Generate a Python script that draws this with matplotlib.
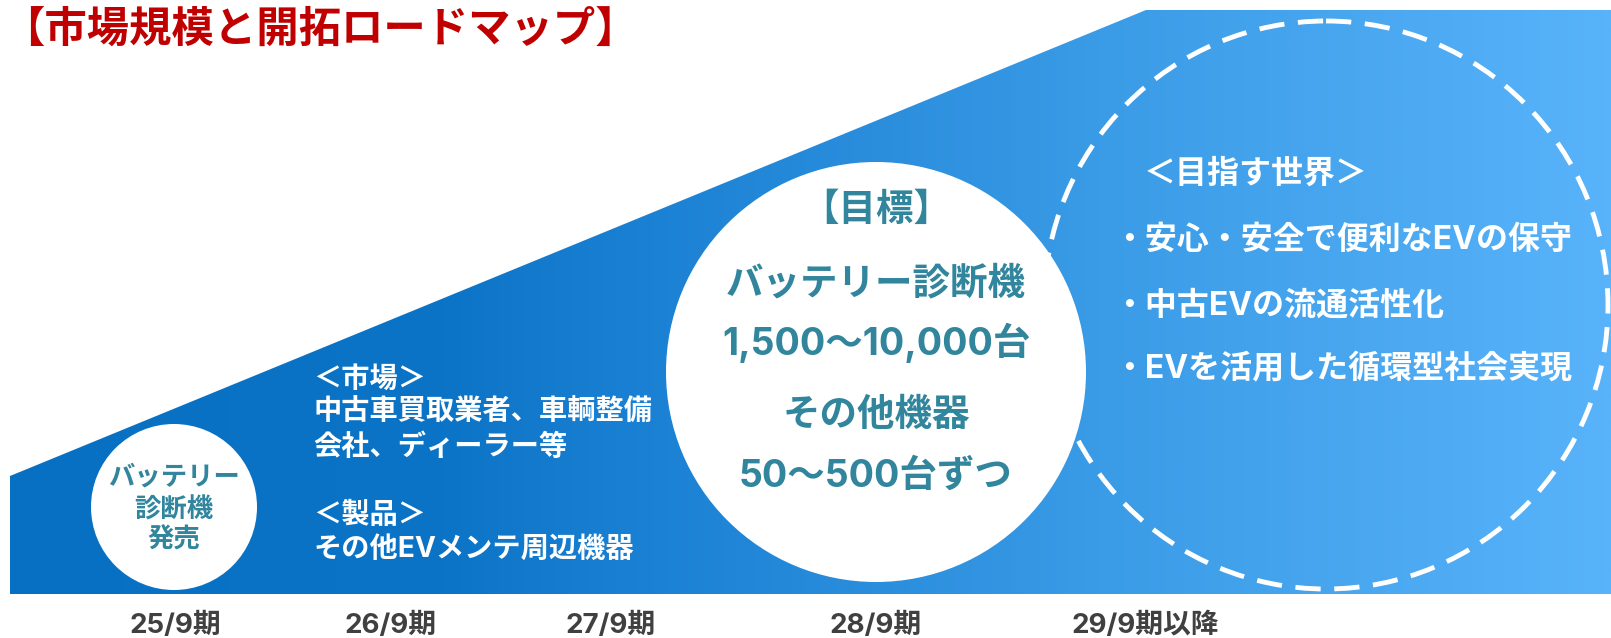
import numpy as np
import matplotlib
matplotlib.use("Agg")
import matplotlib.pyplot as plt
from matplotlib.patches import Polygon, Circle, Ellipse
from matplotlib.colors import LinearSegmentedColormap

# Latin glyphs from Inter, Japanese falls back to Noto
plt.rcParams['font.family'] = ['Inter', 'Noto Sans CJK JP', 'DejaVu Sans']

W, H = 1611, 638

# --- content ---
title = "【市場規模と開拓ロードマップ】"
periods = ["25/9期", "26/9期", "27/9期", "28/9期", "29/9期以降"]
launch_lines = ["バッテリー", "診断機", "発売"]
market_lines = ["＜市場＞", "中古車買取業者、車輌整備", "会社、ディーラー等", "",
                "＜製品＞", "その他EVメンテ周辺機器"]
target_lines = ["【目標】", "バッテリー診断機", "1,500～10,000台", "その他機器", "50～500台ずつ"]
vision_title = "＜目指す世界＞"
vision_items = ["・安心・安全で便利なEVの保守", "・中古EVの流通活性化", "・EVを活用した循環型社会実現"]

# --- layout (pixel coordinates) ---
period_x = [175, 390, 611, 876, 1145]
period_y = 626
area = [(10, 594), (10, 476), (1146, 10), (1611, 10), (1611, 594)]

RED = "#C00000"
TEAL = "#31859C"
GRAY = "#404040"

fig = plt.figure(figsize=(W / 100, H / 100), dpi=100)
ax = fig.add_axes([0, 0, 1, 1])
ax.set_xlim(0, W)
ax.set_ylim(H, 0)
ax.axis('off')

# growth area with horizontal blue gradient
cmap = LinearSegmentedColormap.from_list(
    "blues",
    [(0.0, "#0770C2"), (0.27, "#0C74C6"), (0.39, "#1A80D3"),
     (0.68, "#3A9BE6"), (1.0, "#58B3FA")])
grad = np.linspace(0, 1, 800).reshape(1, -1)
img = ax.imshow(grad, cmap=cmap, extent=(10, 1611, 594, 10), aspect='auto', zorder=1)
poly = Polygon(area, closed=True, facecolor='none', edgecolor='none')
ax.add_patch(poly)
img.set_clip_path(poly)

# circles
ax.add_patch(Circle((174, 507), 83, facecolor='white', edgecolor='none', zorder=2))
ax.add_patch(Circle((876, 372), 210, facecolor='white', edgecolor='none', zorder=2))
ax.add_patch(Ellipse((1326, 305), 564, 568, facecolor='none', edgecolor='white',
                     linewidth=3.5, linestyle=(0, (5.2, 2.8)), zorder=2))

# title
ax.text(2, 30, title, color=RED, fontsize=30.5, fontweight='bold', ha='left', va='center', zorder=3)

# launch circle
for txt, y in zip(launch_lines, [478, 511, 541]):
    ax.text(174, y, txt, color=TEAL, fontsize=19, fontweight='bold', ha='center', va='center', zorder=3)

# market / product notes
for txt, y in zip(market_lines, [379, 412, 447, 481, 515, 549]):
    ax.text(313, y, txt, color='white', fontsize=20.3, fontweight='bold', ha='left', va='center', zorder=3)

# target circle
for txt, y in zip(target_lines, [211, 284, 343, 416, 477]):
    ax.text(876, y, txt, color=TEAL, fontsize=27, fontweight='bold', ha='center', va='center', zorder=3)

# vision
ax.text(1144, 174, vision_title, color='white', fontsize=23, fontweight='bold', ha='left', va='center', zorder=3)
for txt, y in zip(vision_items, [240, 306, 369]):
    ax.text(1113, y, txt, color='white', fontsize=23, fontweight='bold', ha='left', va='center', zorder=3)

# period labels
for txt, x in zip(periods, period_x):
    ax.text(x, period_y, txt, color=GRAY, fontsize=20, fontweight='bold', ha='center', va='center', zorder=3)

fig.savefig("out.png", dpi=100)
